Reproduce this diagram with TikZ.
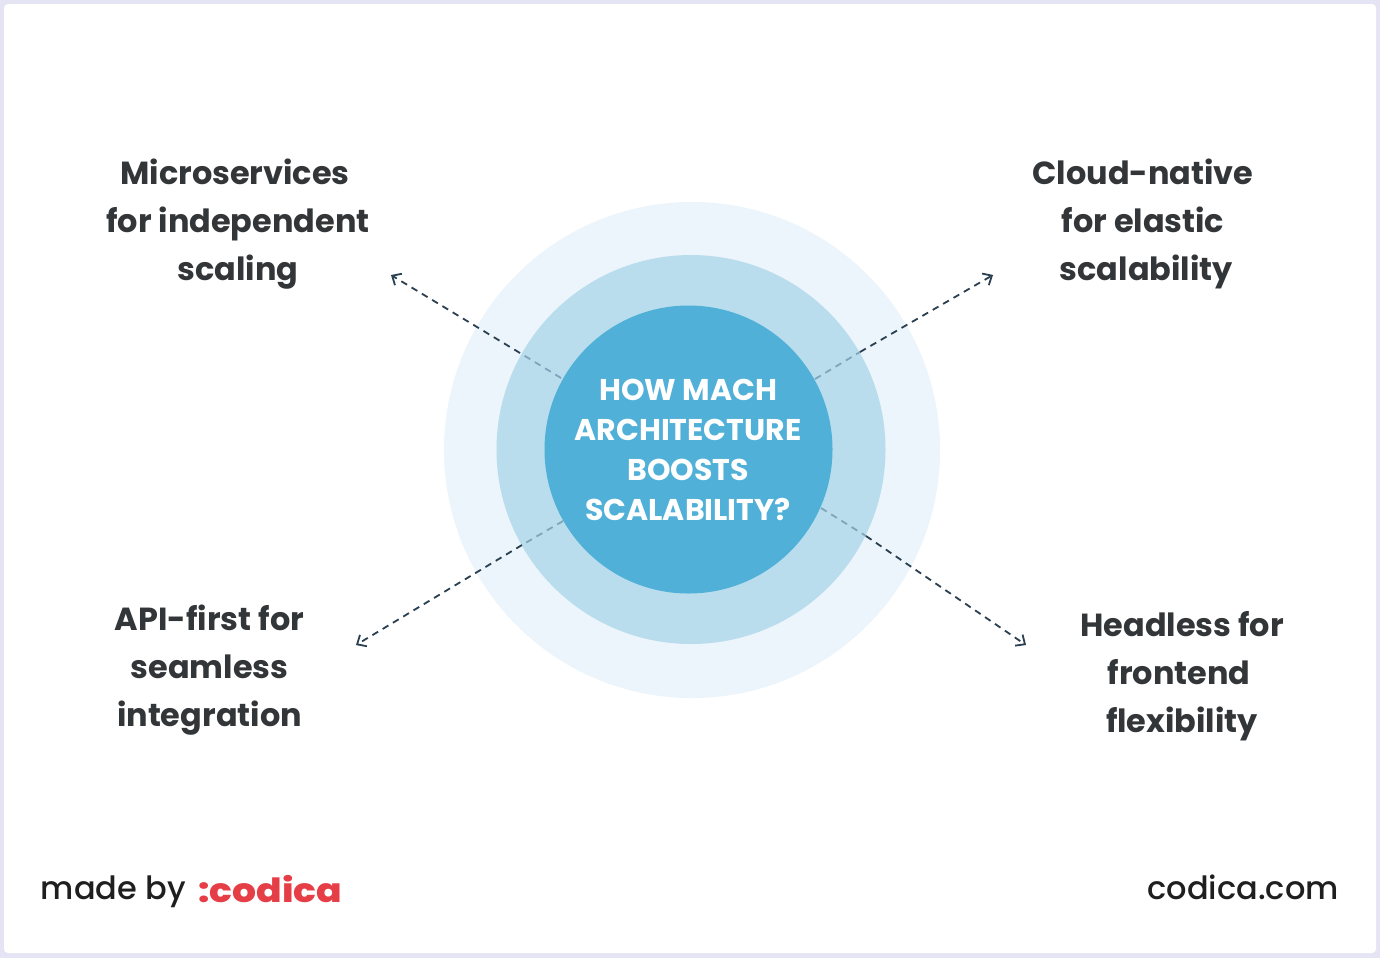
\documentclass[tikz,border=0pt]{standalone}
\usepackage{fontspec}
\setmainfont{Poppins Bold}
\newfontfamily\popmed{Poppins Medium}
\newfontfamily\logofont{Poppins ExtraBold}[FakeStretch=1.13]
\usetikzlibrary{arrows.meta}
\definecolor{frame}{HTML}{E4E4F4}
\definecolor{ringa}{HTML}{EBF5FB}
\definecolor{ringb}{HTML}{B9DDED}
\definecolor{ringc}{HTML}{50B0D7}
\definecolor{ink}{HTML}{333638}
\definecolor{lineink}{HTML}{2A3F50}
\definecolor{linefade}{HTML}{7FA5BA}
\definecolor{logored}{HTML}{E63E46}
\tikzset{
  x=0.75pt,y=-0.75pt,
  disc/.style={circle,inner sep=0pt,outer sep=0pt,minimum size=#1*0.75pt},
  item/.style={text=ink,font=\fontsize{23.95}{36}\selectfont,align=center,inner sep=0pt},
  core/.style={text=white,font=\fontsize{22.5}{30}\selectfont,align=center,inner sep=0pt},
  foot/.style={text=black!88,font=\popmed\fontsize{24}{30}\selectfont,inner sep=0pt},
  link/.style={lineink,line width=1.35pt,dash pattern=on 5pt off 4pt},
  fade/.style={linefade,line width=1.35pt,dash pattern=on 5pt off 4pt},
  tip/.style={-{Straight Barb[length=5.5pt,width=10pt,line width=1.35pt]}},
}
\begin{document}
\begin{tikzpicture}
\useasboundingbox (0,0) rectangle (1380,958);
\fill[frame] (0,0) rectangle (1380,958);
\fill[white,rounded corners=3pt] (4,4) rectangle (1376,953);
\node[disc=496,fill=ringa] (outer) at (692,450) {};
\node[disc=389,fill=ringb] (middle) at (691,449.5) {};
\node[disc=288,fill=ringc] (inner) at (688.5,449.5) {};
% connectors
\coordinate (tl0) at (561,378); \coordinate (tl1) at (520,353); \coordinate (tl2) at (391,275);
\coordinate (tr0) at (815,379); \coordinate (tr1) at (860,352); \coordinate (tr2) at (993,275);
\coordinate (bl0) at (563,521); \coordinate (bl1) at (522,545); \coordinate (bl2) at (356,645);
\coordinate (br0) at (821,508); \coordinate (br1) at (866,536); \coordinate (br2) at (1026,645);
\draw[fade] (tl0) -- (tl1); \draw[link,tip] (tl1) -- (tl2);
\draw[fade] (tr0) -- (tr1); \draw[link,tip] (tr1) -- (tr2);
\draw[fade] (bl0) -- (bl1); \draw[link,tip] (bl1) -- (bl2);
\draw[fade] (br0) -- (br1); \draw[link,tip] (br1) -- (br2);
% texts
\node[core] (title) at (688,450) {HOW MACH\\ARCHITECTURE\\BOOSTS\\SCALABILITY?};
\node[item] (a) at (238,224) {\mbox{Microservices\kern4.5pt}\\for independent\\scaling};
\node[item] (b) at (1143,224) {Cloud-native\\for elastic\\\hspace*{5pt}scalability};
\node[item] (c) at (209.5,670) {API-first for\\seamless\\integration};
\node[item] (d) at (1182,676) {Headless for\\\mbox{frontend\kern4.5pt}\\flexibility};
\node[foot,anchor=base west] (made) at (40.5,899.5) {made by};
\node[anchor=base west,inner sep=0pt,text=logored,font=\logofont\fontsize{25}{30}\selectfont] (logo) at (198,902) {:codica};
\node[foot,anchor=base east] (site) at (1339,899.5) {codica.com};
\end{tikzpicture}
\end{document}
